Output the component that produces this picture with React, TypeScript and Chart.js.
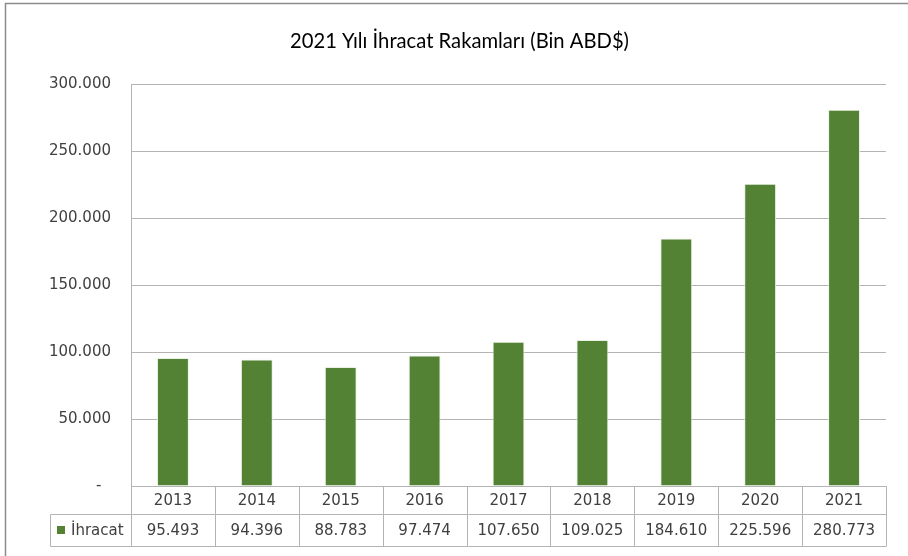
import React, { useEffect, useRef } from "react";
import { Chart, registerables } from "chart.js";

Chart.register(...registerables);

const TITLE = "2021 Yılı İhracat Rakamları (Bin ABD$)";
const SERIES_NAME = "İhracat";
const YEARS = ["2013", "2014", "2015", "2016", "2017", "2018", "2019", "2020", "2021"];
const EXPORTS = [95493, 94396, 88783, 97474, 107650, 109025, 184610, 225596, 280773];
const Y_MAX = 300000;
const Y_STEP = 50000;

const BAR_COLOR = "#548235";
const GRID_COLOR = "#b4b4b4";
const TEXT_COLOR = "#404040";
const TICK_FONT = "15px 'DejaVu Sans'";

function fmt(n: number): string {
  const s = Math.round(n).toString();
  return s.replace(/\B(?=(\d{3})+(?!\d))/g, ".");
}

const framePlugin = {
  id: "frameAndTable",
  afterDraw(chart: any) {
    const ctx = chart.ctx as CanvasRenderingContext2D;
    const area = chart.chartArea;
    const xs = chart.scales.x;
    const n = YEARS.length;
    const step = (area.right - area.left) / n;

    ctx.save();
    // outer frame
    ctx.strokeStyle = "#8c8c8c";
    ctx.lineWidth = 1.5;
    ctx.beginPath();
    ctx.moveTo(5.5, 556);
    ctx.lineTo(5.5, 3.5);
    ctx.lineTo(908, 3.5);
    ctx.stroke();

    // title
    ctx.fillStyle = "#000000";
    ctx.font = "21px Lato";
    ctx.textBaseline = "alphabetic";
    ctx.textAlign = "center";
    const w = ctx.measureText(TITLE).width;
    const target = 339;
    ctx.save();
    ctx.translate(459.5, 48);
    ctx.scale(target / w, 1);
    ctx.fillText(TITLE, 0, 0);
    ctx.restore();

    // data table
    const top = area.bottom;
    const mid = 514.5;
    const bot = 546.5;
    const firstLeft = 50.5;
    ctx.strokeStyle = GRID_COLOR;
    ctx.lineWidth = 1;
    ctx.beginPath();
    ctx.moveTo(area.left, top + 0.5);
    ctx.lineTo(area.right, top + 0.5);
    ctx.moveTo(firstLeft, mid);
    ctx.lineTo(area.right, mid);
    ctx.moveTo(firstLeft, bot);
    ctx.lineTo(area.right, bot);
    ctx.moveTo(firstLeft, mid);
    ctx.lineTo(firstLeft, bot);
    for (let i = 0; i <= n; i++) {
      const x = Math.round(area.left + i * step) + 0.5;
      ctx.moveTo(x, top);
      ctx.lineTo(x, bot);
    }
    ctx.stroke();

    ctx.fillStyle = TEXT_COLOR;
    ctx.font = TICK_FONT;
    ctx.textAlign = "center";
    ctx.textBaseline = "middle";
    for (let i = 0; i < n; i++) {
      const cx = xs.getPixelForValue(i);
      ctx.fillText(YEARS[i], cx, (top + mid) / 2 + 1);
      ctx.fillText(fmt(EXPORTS[i]), cx, (mid + bot) / 2 + 1);
    }
    // legend key
    ctx.fillStyle = BAR_COLOR;
    ctx.fillRect(57, 526, 8, 8);
    ctx.fillStyle = TEXT_COLOR;
    ctx.textAlign = "left";
    ctx.fillText(SERIES_NAME, 71, (mid + bot) / 2 + 1);
    ctx.restore();
  },
};

export default function App() {
  const ref = useRef<HTMLCanvasElement | null>(null);
  useEffect(() => {
    if (!ref.current) return;
    const chart = new Chart(ref.current, {
      type: "bar",
      data: {
        labels: YEARS,
        datasets: [
          {
            label: SERIES_NAME,
            data: EXPORTS,
            backgroundColor: BAR_COLOR,
            borderColor: "rgba(230,240,225,0.9)",
            borderWidth: 1,
            barPercentage: 0.38,
            categoryPercentage: 1,
          },
        ],
      },
      options: {
        animation: false,
        responsive: false,
        layout: { padding: { left: 0, right: 22, top: 84, bottom: 70 } },
        plugins: {
          legend: { display: false },
          title: { display: false },
          tooltip: { enabled: false },
        },
        scales: {
          x: { display: false },
          y: {
            min: 0,
            max: Y_MAX,
            afterFit: (s: any) => {
              s.width = 131;
            },
            border: { display: true, color: GRID_COLOR, width: 1 },
            grid: { color: GRID_COLOR, drawTicks: false, lineWidth: 1 },
            ticks: {
              stepSize: Y_STEP,
              padding: 20,
              color: TEXT_COLOR,
              font: { family: "'DejaVu Sans'", size: 15 },
              callback: (v: any) => (Number(v) === 0 ? "-  " : fmt(Number(v))),
            },
          },
        },
      },
      plugins: [framePlugin],
    });
    return () => chart.destroy();
  }, []);
  return (
    <div style={{ position: "fixed", left: 0, top: 0, width: 908, height: 556, background: "#fff" }}>
      <canvas ref={ref} width={908} height={556} style={{ display: "block" }} />
    </div>
  );
}
